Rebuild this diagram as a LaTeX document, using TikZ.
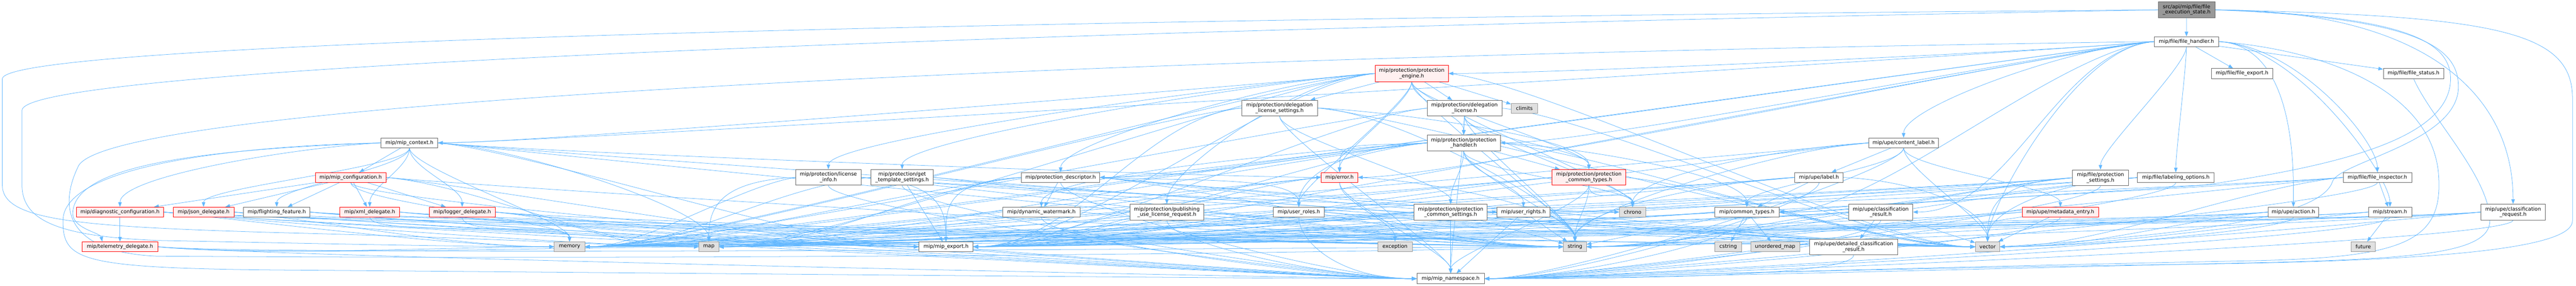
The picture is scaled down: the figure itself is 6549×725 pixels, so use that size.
\documentclass[tikz,border=0pt]{standalone}
\usepackage{fontspec}
\setmainfont{DejaVu Sans}
\usetikzlibrary{arrows.meta}
\definecolor{edgec}{HTML}{63B8FF}
\definecolor{grayb}{HTML}{666666}
\definecolor{sysb}{HTML}{999999}
\definecolor{sysf}{HTML}{E0E0E0}
\definecolor{redf}{HTML}{FFF0F0}
\pgfdeclarelayer{bg}
\pgfdeclarelayer{edges}
\pgfsetlayers{bg,edges,main}
\tikzset{
  base/.style={rectangle, inner sep=0pt, align=center, line width=1pt, font=\fontsize{13}{13.8}\selectfont},
  nrm/.style={base, draw=grayb, fill=white},
  sysh/.style={base, draw=sysb, fill=sysf},
  redn/.style={base, draw=red, fill=redf},
  srcn/.style={base, draw=grayb, fill=sysb},
  edg/.style={draw=edgec, line width=1pt, -{Triangle[length=12pt,width=9pt]}}
}
\newcommand\edS[2]{\draw[edg] (#1) -- (#2);}
\newcommand\edD[2]{\draw[edg] (#1.south) .. controls +(0,50) and +(0,-50) .. (#2.north);}
\newcommand\edL[3][250]{\draw[edg] (#2.west) .. controls +(-#1,25) and +(#1,0) .. (#3.east);}
\newcommand\edR[3][250]{\draw[edg] (#2.east) .. controls +(#1,25) and +(-#1,0) .. (#3.west);}
\newcommand\edDL[2]{\draw[edg] (#1.west) .. controls +(-200,10) and +(0,-80) .. (#2.north);}
\newcommand\edDR[2]{\draw[edg] (#1.east) .. controls +(200,10) and +(0,-80) .. (#2.north);}
\newcommand\edBL[2]{\draw[edg] (#1.south) .. controls +(0,60) and +(200,0) .. (#2.east);}
\newcommand\edBR[2]{\draw[edg] (#1.south) .. controls +(0,60) and +(-200,0) .. (#2.west);}
\begin{document}
\begin{tikzpicture}[x=1pt,y=-1pt]
\begin{pgfonlayer}{bg}
\fill[white] (0,0) rectangle (6549,725);
\end{pgfonlayer}
\useasboundingbox (0,0) rectangle (6549,725);
% nodes
\node[srcn,minimum width=144,minimum height=40] (src) at (5559,25) {src/api/mip/file/file\\\_execution\_state.h};
\node[nrm,minimum width=163,minimum height=25] (fh) at (5558.5,105.5) {mip/file/file\_handler.h};
\node[nrm,minimum width=156,minimum height=25] (fexp) at (5700,186.5) {mip/file/file\_export.h};
\node[nrm,minimum width=154,minimum height=25] (fstat) at (6136,186.5) {mip/file/file\_status.h};
\node[redn,minimum width=186,minimum height=41] (peng) at (3589,186.5) {mip/protection/protection\\\_engine.h};
\node[nrm,minimum width=192,minimum height=40] (dls) at (3253,274) {mip/protection/delegation\\\_license\_settings.h};
\node[nrm,minimum width=190,minimum height=40] (dl) at (3723,274.5) {mip/protection/delegation\\\_license.h};
\node[sysh,minimum width=67,minimum height=25] (clim) at (3875.5,274.5) {climits};
\node[nrm,minimum width=144,minimum height=25] (ctx) at (1041,362.5) {mip/mip\_context.h};
\node[nrm,minimum width=177,minimum height=25] (clab) at (4839.5,362.5) {mip/upe/content\_label.h};
\node[nrm,minimum width=186,minimum height=40] (ph) at (3721,362.5) {mip/protection/protection\\\_handler.h};
\node[redn,minimum width=179,minimum height=25] (mcfg) at (891.5,450) {mip/mip\_configuration.h};
\node[nrm,minimum width=166,minimum height=40] (linfo) at (2106,450) {mip/protection/license\\\_info.h};
\node[nrm,minimum width=159,minimum height=40] (gts) at (2293.5,450) {mip/protection/get\\\_template\_settings.h};
\node[nrm,minimum width=199,minimum height=25] (pd) at (2696.5,450) {mip/protection\_descriptor.h};
\node[redn,minimum width=93,minimum height=25] (err) at (3405.5,450) {mip/error.h};
\node[redn,minimum width=187,minimum height=40] (pct) at (4039.5,450) {mip/protection/protection\\\_common\_types.h};
\node[nrm,minimum width=123,minimum height=25] (lab) at (4624.5,450) {mip/upe/label.h};
\node[nrm,minimum width=142,minimum height=40] (ps) at (5340,451) {mip/file/protection\\\_settings.h};
\node[nrm,minimum width=195,minimum height=25] (lo) at (5531.5,450.5) {mip/file/labeling\_options.h};
\node[nrm,minimum width=174,minimum height=25] (fi) at (6044,450) {mip/file/file\_inspector.h};
\node[redn,minimum width=222,minimum height=25] (diag) at (305,538) {mip/diagnostic\_configuration.h};
\node[redn,minimum width=155,minimum height=25] (json) at (517.5,538) {mip/json\_delegate.h};
\node[nrm,minimum width=169,minimum height=25] (ff) at (703.5,538) {mip/flighting\_feature.h};
\node[redn,minimum width=152,minimum height=25] (xml) at (940,538) {mip/xml\_delegate.h};
\node[redn,minimum width=168,minimum height=25] (log) at (1175,538) {mip/logger\_delegate.h};
\node[nrm,minimum width=197,minimum height=25] (dw) at (2647.5,538) {mip/dynamic\_watermark.h};
\node[nrm,minimum width=187,minimum height=40] (pulr) at (2966.5,538) {mip/protection/publishing\\\_use\_license\_request.h};
\node[nrm,minimum width=130,minimum height=25] (ur) at (3302,538) {mip/user\_roles.h};
\node[nrm,minimum width=186,minimum height=40] (pcs) at (3688,538) {mip/protection/protection\\\_common\_settings.h};
\node[nrm,minimum width=134,minimum height=25] (urt) at (3873,538) {mip/user\_rights.h};
\node[sysh,minimum width=67,minimum height=25] (chr) at (4150.5,538) {chrono};
\node[nrm,minimum width=164,minimum height=25] (ct) at (4441,538) {mip/common\_types.h};
\node[nrm,minimum width=163,minimum height=40] (cr) at (4781.5,538) {mip/upe/classification\\\_result.h};
\node[redn,minimum width=194,minimum height=25] (me) at (5238,538) {mip/upe/metadata\_entry.h};
\node[nrm,minimum width=129,minimum height=25] (act) at (5830.5,538) {mip/upe/action.h};
\node[nrm,minimum width=110,minimum height=25] (str) at (6076,538) {mip/stream.h};
\node[nrm,minimum width=164,minimum height=40] (creq) at (6389,538) {mip/upe/classification\\\_request.h};
\node[redn,minimum width=192,minimum height=25] (tel) at (305,626) {mip/telemetry\_delegate.h};
\node[sysh,minimum width=78,minimum height=25] (mem) at (1448,626) {memory};
\node[sysh,minimum width=50,minimum height=25] (map) at (1802,626) {map};
\node[nrm,minimum width=138,minimum height=25] (mexp) at (2405,626) {mip/mip\_export.h};
\node[sysh,minimum width=87,minimum height=25] (exc) at (3546.5,626) {exception};
\node[sysh,minimum width=58,minimum height=25] (strg) at (4004,626) {string};
\node[sysh,minimum width=67,minimum height=25] (cstr) at (4393.5,626) {cstring};
\node[sysh,minimum width=124,minimum height=25] (umap) at (4513,626) {unordered\_map};
\node[nrm,minimum width=223,minimum height=40] (dcr) at (4712.5,626.5) {mip/upe/detailed\_classification\\\_result.h};
\node[sysh,minimum width=62,minimum height=25] (vec) at (5053,626) {vector};
\node[sysh,minimum width=62,minimum height=25] (fut) at (6008,626) {future};
\node[nrm,minimum width=172,minimum height=26] (ns) at (3688,707) {mip/mip\_namespace.h};
\begin{pgfonlayer}{edges}
% source
\edS{src}{fh}
\draw[edg] (src.east) .. controls +(500,0) and +(0,-300) .. (creq.north);
\draw[edg] (src.east) .. controls (6350,40) and (6540,80) .. (6540,250) -- (6540,560) .. controls (6540,620) and (6300,660) .. (5600,670) .. controls (4800,680) and (4200,700) .. (ns.east);
\draw[edg] (src.east) .. controls (6100,40) and (6230,100) .. (6230,200) .. controls (6230,350) and (5950,420) .. (5600,470) .. controls (5000,510) and (4700,520) .. (ct.east);
\draw[edg] (src.east) .. controls (6150,45) and (6250,120) .. (6250,220) .. controls (6250,360) and (5950,410) .. (5930,460) .. controls (5900,560) and (5500,600) .. (vec.east);
\draw[edg] (src.west) .. controls (3500,40) and (6,90) .. (6,200) -- (6,470) .. controls (6,560) and (200,575) .. (700,590) .. controls (1300,605) and (1600,626) .. (map.west);
\draw[edg] (src.west) .. controls (3500,60) and (56,150) .. (56,280) -- (56,470) .. controls (56,560) and (150,600) .. (400,610) .. controls (900,620) and (1200,626) .. (mem.west);
% file handler
\edS{fh}{fexp}
\edS{fh}{fstat}
\edDR{fh}{fi}
\edDR{fh}{act}
\edDR{fh}{str}
\edD{fh}{lo}
\edD{fh}{ps}
\edDL{fh}{clab}
\edL{fh}{peng}
\edL{fh}{ctx}
\edL{fh}{ph}
\edL{fh}{pd}
\edL{fh}{err}
\edL{fh}{cr}
\edL{fh}{ct}
\edL{fh}{mem}
\edL{fh}{mexp}
\edDL{fh}{vec}
\draw[edg] (fh.east) .. controls (5950,130) and (6190,250) .. (6200,450) .. controls (6210,620) and (6100,655) .. (5700,662) .. controls (4800,680) and (4200,700) .. (ns.east);
\draw[edg] (fh.west) .. controls (3000,140) and (300,250) .. (200,420) .. controls (150,520) and (160,640) .. (400,650) .. controls (2000,660) and (3500,640) .. (strg.west);
\draw[edg] (fstat.south) .. controls (6180,300) and (6330,450) .. (6330,560) .. controls (6330,640) and (6150,655) .. (5800,665) .. controls (4900,685) and (4200,705) .. (ns.east);
% protection engine
\edS{peng}{dls}
\edS{peng}{dl}
\edS{peng}{clim}
\edD{peng}{ph}
\edD{peng}{err}
\edD{peng}{pct}
\edD{peng}{chr}
\edD{peng}{strg}
\edR{peng}{vec}
\edL{peng}{mem}
\edL{peng}{map}
\edL{peng}{ctx}
\edDL{peng}{linfo}
\edDL{peng}{gts}
\edDL{peng}{pd}
\edDL{peng}{pulr}
\edD{peng}{ur}
\edL{peng}{mexp}
% delegation license settings
\edD{dls}{pcs}
\edDR{dls}{pct}
\edDR{dls}{strg}
\edR{dls}{vec}
\edL{dls}{mexp}
\edD{dls}{ns}
\edL{dls}{mem}
% delegation license
\edS{dl}{ph}
\edD{dl}{pct}
\edD{dl}{chr}
\edD{dl}{strg}
\edR{dl}{vec}
\edL{dl}{mem}
\edL{dl}{mexp}
\edD{dl}{ns}
% protection handler
\edS{ph}{pct}
\edD{ph}{pcs}
\edD{ph}{urt}
\edD{ph}{chr}
\edD{ph}{strg}
\edR{ph}{vec}
\edL{ph}{mem}
\edL{ph}{map}
\edL{ph}{pd}
\draw[edg] (ph.west) .. controls +(-300,20) and +(0,-80) .. (dw.north);
\edDL{ph}{ur}
\edL{ph}{mexp}
\edDR{ph}{ct}
\edDL{ph}{err}
% error
\edD{err}{exc}
\edDR{err}{strg}
\edL{err}{mem}
\edL{err}{map}
\edL{err}{mexp}
\edD{err}{ns}
% protection common types
\edD{pct}{chr}
\edD{pct}{strg}
\edR{pct}{vec}
\edL{pct}{mem}
\edD{pct}{ns}
\edL{pct}{mexp}
\edL{pct}{map}
% common settings
\edS{pcs}{ns}
\edS{pcs}{strg}
\edL{pcs}{map}
\edL{pcs}{mem}
\edR{pcs}{vec}
\edL{pcs}{mexp}
% user rights / roles
\edS{urt}{strg}
\edS{urt}{ns}
\edR{urt}{vec}
\edL{urt}{mexp}
\edR{ur}{strg}
\edBR{ur}{ns}
\edR{ur}{vec}
\edL{ur}{mexp}
% common types
\edS{ct}{cstr}
\edS{ct}{strg}
\edS{ct}{umap}
\edR[150]{ct}{vec}
\edL{ct}{map}
\edL{ct}{mem}
\edBL{ct}{ns}
\edL{ct}{mexp}
% content label / label
\edS{clab}{lab}
\edD{clab}{ct}
\edD{clab}{me}
\edDL{clab}{chr}
\edDL{clab}{strg}
\edD{clab}{vec}
\edL{clab}{mem}
\edBL{clab}{ns}
\edL{clab}{mexp}
\edS{lab}{ct}
\edDL{lab}{strg}
\edDR{lab}{vec}
\edL{lab}{mem}
\edBL{lab}{ns}
\edL{lab}{map}
\edL{lab}{mexp}
% classification result
\edS{cr}{dcr}
\edS{cr}{vec}
\edL{cr}{strg}
\edL{cr}{map}
\edL{cr}{mem}
\edBL{cr}{ns}
\edL{cr}{mexp}
\edBL{dcr}{ns}
% metadata entry
\edBL{me}{ns}
\edL{me}{strg}
\edL{me}{mexp}
\edS{me}{vec}
% protection settings / labeling options
\edBL{ps}{ns}
\edL{ps}{strg}
\edL{ps}{mem}
\edL{ps}{map}
\edL{ps}{ct}
\edDL{ps}{vec}
\edL{ps}{mexp}
\edBL{lo}{ns}
\edL{lo}{ct}
\edL{lo}{strg}
\edDL{lo}{vec}
\edL{lo}{map}
\edL{lo}{mexp}
% inspector, action, stream, request
\edS{fi}{str}
\edBL{fi}{ns}
\edL{fi}{vec}
\edL{fi}{mem}
\edL{fi}{strg}
\edL{fi}{mexp}
\edBL{act}{ns}
\edL{act}{mem}
\edL{act}{strg}
\edL{act}{vec}
\edL{act}{mexp}
\edS{str}{fut}
\edBL{str}{ns}
\edL{str}{mem}
\edL{str}{vec}
\edL{str}{mexp}
\edBL{creq}{ns}
\edL{creq}{strg}
\edL{creq}{mem}
\edL{creq}{vec}
\edL{creq}{map}
\edL{creq}{mexp}
% license info, template settings, descriptor
\edL[150]{linfo}{mem}
\edDL{linfo}{map}
\edR{linfo}{chr}
\edR{linfo}{strg}
\edBR{linfo}{ns}
\edDR{linfo}{mexp}
\edR{linfo}{vec}
\edS{gts}{mexp}
\edBR{gts}{ns}
\edL{gts}{mem}
\edR{gts}{strg}
\edR{gts}{vec}
\edS{pd}{dw}
\edDL{pd}{mexp}
\edL{pd}{mem}
\edL{pd}{map}
\edR{pd}{strg}
\edR{pd}{vec}
\edBR{pd}{ns}
\edDR{pd}{ur}
\edR{pd}{urt}
\edR{pd}{chr}
\edBR{dw}{ns}
\edR{dw}{strg}
\edL{dw}{mem}
\edL[120]{pulr}{mexp}
\edBR{pulr}{ns}
\edR{pulr}{strg}
\edR{pulr}{vec}
\edL{pulr}{mem}
% mip context
\edS{ctx}{mcfg}
\edD{ctx}{xml}
\edD{ctx}{ff}
\edD{ctx}{json}
\edDL{ctx}{diag}
\draw[edg] (ctx.west) .. controls (500,380) and (190,420) .. (185,540) .. controls (183,580) and (255,590) .. ([xshift=-45pt]tel.north);
\edD{ctx}{log}
\edD{ctx}{mem}
\edDR{ctx}{map}
\edR{ctx}{mexp}
\edR{ctx}{strg}
\edR{ctx}{err}
\edR{ctx}{vec}
\draw[edg] (ctx.west) .. controls (600,370) and (160,420) .. (160,560) .. controls (160,660) and (200,680) .. (700,685) .. controls (2000,695) and (3200,707) .. (ns.west);
% configuration
\edS{mcfg}{diag}
\edS{mcfg}{json}
\edS{mcfg}{ff}
\edS{mcfg}{xml}
\edS{mcfg}{log}
\edD{mcfg}{mem}
\edR{mcfg}{map}
\edR{mcfg}{strg}
\edBR{mcfg}{ns}
\edR{mcfg}{mexp}
% delegates
\edS{diag}{tel}
\edR{diag}{mem}
\edR{diag}{map}
\edR{diag}{strg}
\edR{diag}{ns}
\edR{diag}{mexp}
\edR{diag}{vec}
\edR{json}{mem}
\edR{json}{strg}
\edR{json}{ns}
\edR{json}{mexp}
\edR{ff}{strg}
\edR{ff}{ns}
\edR{ff}{mexp}
\edR{ff}{vec}
\edD{xml}{mem}
\edR{xml}{strg}
\edR{xml}{ns}
\edR{xml}{mexp}
\edD{log}{mem}
\edR{log}{map}
\edR{log}{strg}
\edR{log}{ns}
\edR{log}{mexp}
\edR{tel}{strg}
\edR{tel}{ns}
\edR{tel}{mem}
\edR{tel}{map}
\end{pgfonlayer}
\end{tikzpicture}
\end{document}
